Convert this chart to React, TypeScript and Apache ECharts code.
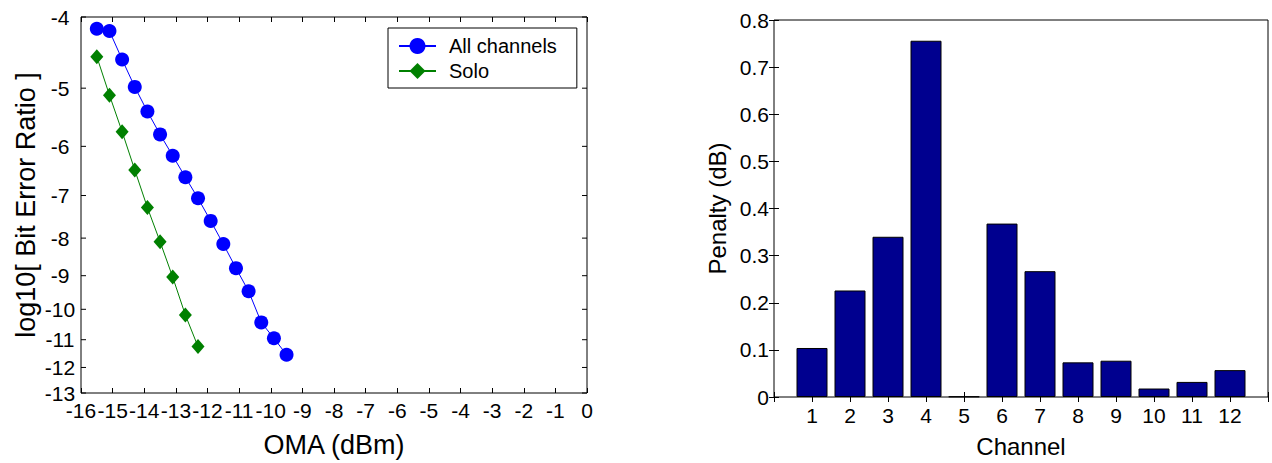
import React, { useEffect, useRef } from "react";
import * as echarts from "echarts";

// ---- Data ----
const allChannelsOMA = [-15.5, -15.1, -14.7, -14.3, -13.9, -13.5, -13.1, -12.7, -12.3, -11.9, -11.5, -11.1, -10.7, -10.3, -9.9, -9.5];
const allChannelsLogBER = [-4.15, -4.18, -4.57, -4.98, -5.38, -5.78, -6.18, -6.61, -7.06, -7.58, -8.15, -8.79, -9.45, -10.42, -10.95, -11.53];
const soloOMA = [-15.5, -15.1, -14.7, -14.3, -13.9, -13.5, -13.1, -12.7, -12.3];
const soloLogBER = [-4.53, -5.11, -5.73, -6.46, -7.27, -8.09, -9.04, -10.18, -11.24];
const berTicks = [-4, -5, -6, -7, -8, -9, -10, -11, -12, -13];
const omaMin = -16;
const omaMax = 0;

const channels = [1, 2, 3, 4, 5, 6, 7, 8, 9, 10, 11, 12];
const penaltyDB = [0.104, 0.226, 0.34, 0.756, 0.001, 0.368, 0.267, 0.0735, 0.077, 0.018, 0.032, 0.057];

const FONT = '"Liberation Sans", Arial, sans-serif';

export default function App() {
  const ref = useRef<HTMLDivElement>(null);

  useEffect(() => {
    if (!ref.current) return;
    const chart = echarts.init(ref.current, undefined, { renderer: "svg" });

    const leftTick = { color: "#000", fontFamily: FONT, fontSize: 21 };
    const rightTick = { color: "#000", fontFamily: FONT, fontSize: 21 };
    const leftTitle = { color: "#000", fontFamily: FONT, fontSize: 27 };
    const rightTitle = { color: "#000", fontFamily: FONT, fontSize: 24 };
    const tickIn = { show: true, inside: true, length: 5, lineStyle: { color: "#000", width: 1 } };

    const option: any = {
      animation: false,
      backgroundColor: "#fff",
      grid: [
        { left: 81, top: 17, width: 506, height: 377, show: true, borderColor: "#000", borderWidth: 1, backgroundColor: "transparent" },
        { left: 774, top: 20, width: 494, height: 381, show: true, borderColor: "#000", borderWidth: 1, backgroundColor: "transparent" },
      ],
      legend: {
        orient: "vertical",
        left: 388,
        top: 28,
        data: ["All channels", "Solo"],
        selectedMode: false,
        itemWidth: 37,
        itemHeight: 20,
        itemGap: 5,
        padding: [8, 20, 7, 10],
        borderColor: "#000",
        borderWidth: 1,
        backgroundColor: "#fff",
        textStyle: { color: "#000", fontFamily: FONT, fontSize: 20, padding: [0, 0, 0, 8] },
      },
      xAxis: [
        {
          gridIndex: 0, type: "value", min: omaMin, max: omaMax, interval: 1, position: "bottom",
          axisLine: { show: false }, axisTick: tickIn, splitLine: { show: false },
          axisLabel: { ...leftTick, margin: 7 },
          name: "OMA (dBm)", nameLocation: "middle", nameGap: 38, nameTextStyle: leftTitle,
        },
        {
          gridIndex: 0, type: "value", min: omaMin, max: omaMax, interval: 1, position: "top",
          axisLine: { show: false }, axisTick: tickIn, splitLine: { show: false }, axisLabel: { show: false },
        },
        {
          gridIndex: 1, type: "value", min: 0, max: 13, interval: 1, position: "bottom",
          axisLine: { show: false }, axisTick: tickIn, splitLine: { show: false },
          axisLabel: { ...rightTick, margin: 8, formatter: (v: number) => (channels.includes(v) ? String(v) : "") },
          name: "Channel", nameLocation: "middle", nameGap: 37, nameTextStyle: rightTitle,
        },
        {
          gridIndex: 1, type: "value", min: 0, max: 13, interval: 1, position: "top",
          axisLine: { show: false }, axisTick: tickIn, splitLine: { show: false }, axisLabel: { show: false },
        },
      ],
      yAxis: [
        {
          gridIndex: 0, type: "log", logBase: 10, min: -berTicks[0], max: -berTicks[berTicks.length - 1], inverse: true,
          axisLine: { show: false }, axisTick: { show: false }, splitLine: { show: false }, axisLabel: { show: false },
          name: "log10[ Bit Error Ratio ]", nameLocation: "middle", nameRotate: 90, nameGap: 42, nameTextStyle: leftTitle,
        },
        {
          gridIndex: 1, type: "value", min: 0, max: 0.8, interval: 0.1, position: "left",
          axisLine: { show: false }, axisTick: tickIn, splitLine: { show: false },
          axisLabel: { ...rightTick, margin: 5 },
          name: "Penalty (dB)", nameLocation: "middle", nameRotate: 90, nameGap: 45, nameTextStyle: rightTitle,
        },
        {
          gridIndex: 1, type: "value", min: 0, max: 0.8, interval: 0.1, position: "right",
          axisLine: { show: false }, axisTick: tickIn, splitLine: { show: false }, axisLabel: { show: false },
        },
      ],
      series: [
        {
          type: "custom",
          xAxisIndex: 0,
          yAxisIndex: 0,
          silent: true,
          clip: false,
          data: berTicks.map((t) => [omaMin, -t, t]),
          renderItem: (_params: any, api: any) => {
            const v = api.value(1);
            const label = api.value(2);
            const pL = api.coord([omaMin, v]);
            const pR = api.coord([omaMax, v]);
            return {
              type: "group",
              children: [
                { type: "line", shape: { x1: pL[0], y1: pL[1], x2: pL[0] + 5, y2: pL[1] }, style: { stroke: "#000", lineWidth: 1 } },
                { type: "line", shape: { x1: pR[0], y1: pR[1], x2: pR[0] - 5, y2: pR[1] }, style: { stroke: "#000", lineWidth: 1 } },
                {
                  type: "text",
                  x: pL[0] - 21,
                  y: pL[1],
                  style: { text: String(label), align: "center", verticalAlign: "middle", fontFamily: FONT, fontSize: 21, fill: "#000" },
                },
              ],
            };
          },
        },
        {
          name: "All channels",
          type: "line",
          xAxisIndex: 0,
          yAxisIndex: 0,
          data: allChannelsOMA.map((x, i) => [x, -allChannelsLogBER[i]]),
          symbol: "circle",
          symbolSize: 14,
          itemStyle: { color: "#0000ff" },
          lineStyle: { color: "#0000ff", width: 1 },
          z: 3,
        },
        {
          name: "Solo",
          type: "line",
          xAxisIndex: 0,
          yAxisIndex: 0,
          data: soloOMA.map((x, i) => [x, -soloLogBER[i]]),
          symbol: "diamond",
          symbolSize: [13, 15],
          itemStyle: { color: "#008000" },
          lineStyle: { color: "#008000", width: 1 },
          z: 3,
        },
        {
          name: "Penalty",
          type: "bar",
          xAxisIndex: 2,
          yAxisIndex: 1,
          data: channels.map((c, i) => [c, penaltyDB[i]]),
          barWidth: 31,
          itemStyle: { color: "#00008f", borderColor: "#000", borderWidth: 1 },
        },
      ],
    };

    chart.setOption(option);
    return () => chart.dispose();
  }, []);

  return <div ref={ref} style={{ position: "fixed", left: 0, top: 0, width: 1272, height: 463, background: "#fff" }} />;
}
